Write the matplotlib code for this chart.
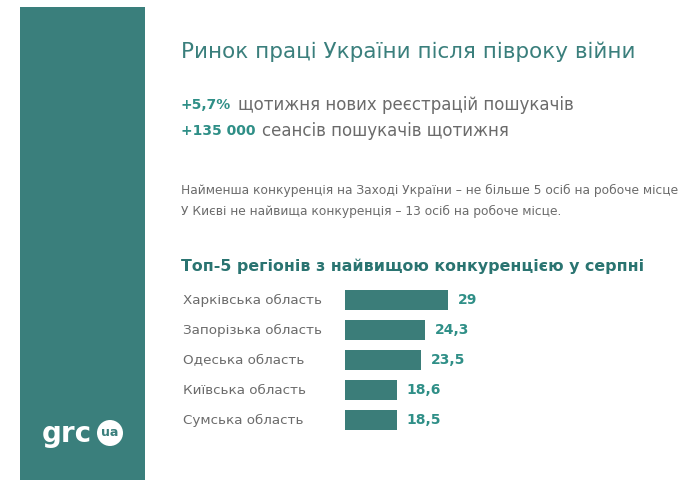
import matplotlib.pyplot as plt
import matplotlib.transforms as mtransforms
from matplotlib.patches import Rectangle, Ellipse

regions = ['Харківська область', 'Запорізька область', 'Одеська область',
           'Київська область', 'Сумська область']
values = [29, 24.3, 23.5, 18.6, 18.5]
value_labels = ['29', '24,3', '23,5', '18,6', '18,5']

title = 'Ринок праці України після півроку війни'
stats = [('+5,7%', 'щотижня нових реєстрацій пошукачів'),
         ('+135 000', 'сеансів пошукачів щотижня')]
notes = ['Найменша конкуренція на Заході України – не більше 5 осіб на робоче місце',
         'У Києві не найвища конкуренція – 13 осіб на робоче місце.']
subtitle = 'Топ-5 регіонів з найвищою конкуренцією у серпні'

W, H = 693, 480
teal = '#3a7f7c'
bar_col = '#3b7d79'
val_col = '#2f8f87'
head_col = '#2a7471'
gray = '#6b6b6b'

plt.rcParams['font.family'] = ['DejaVu Sans']

fig = plt.figure(figsize=(W / 100, H / 100), dpi=100)
fig.patch.set_facecolor('white')

def fx(px):
    return px / W

def fy(py):
    return 1 - py / H

# left panel + logo
fig.patches.append(Rectangle((fx(20), 0), fx(145) - fx(20), fy(7), transform=fig.transFigure,
                             facecolor=teal, edgecolor='none', zorder=0))
fig.text(fx(42), fy(434), 'grc', color='white', fontsize=20, fontweight='bold',
         va='center', ha='left')
fig.patches.append(Ellipse((fx(110), fy(433)), 26 / W, 26 / H, transform=fig.transFigure,
                           facecolor='white', edgecolor='none', zorder=1))
fig.text(fx(110), fy(433), 'ua', color=teal, fontsize=9, fontweight='bold',
         va='center', ha='center', zorder=2)

# header texts
fig.text(fx(181), fy(52), title, color=teal, fontsize=15.5, va='center', ha='left')

r = fig.canvas.get_renderer()
for i, (num, txt) in enumerate(stats):
    y = fy(105 + i * 26)
    t = fig.text(fx(181), y, num, color=val_col, fontsize=10, fontweight='bold',
                 va='center', ha='left')
    bb = t.get_window_extent(renderer=r)
    fig.text(bb.x1 / W + fx(7), y, txt, color=gray, fontsize=12, va='center', ha='left')

for i, line in enumerate(notes):
    fig.text(fx(181), fy(190 + i * 21), line, color=gray, fontsize=8.8,
             va='center', ha='left')

fig.text(fx(181), fy(266), subtitle, color=head_col, fontsize=11.4, fontweight='bold',
         va='center', ha='left')

# bar chart
ax = fig.add_axes([fx(345), fy(435), fx(520) - fx(345), 150 / H])
ypos = list(range(len(regions)))
ax.barh(ypos, values, height=0.67, color=bar_col)
ax.set_xlim(7.85, 7.85 + 175 / 4.857)
ax.set_ylim(len(regions) - 0.5, -0.5)
ax.axis('off')

trans = mtransforms.blended_transform_factory(fig.transFigure, ax.transData)
for y, name, v, lab in zip(ypos, regions, values, value_labels):
    ax.text(fx(183), y, name, transform=trans, color=gray, fontsize=9.7,
            va='center', ha='left')
    ax.text(v + 2.0, y, lab, color=val_col, fontsize=10, fontweight='bold',
            va='center', ha='left', clip_on=False)

fig.savefig('out.png', dpi=100)
